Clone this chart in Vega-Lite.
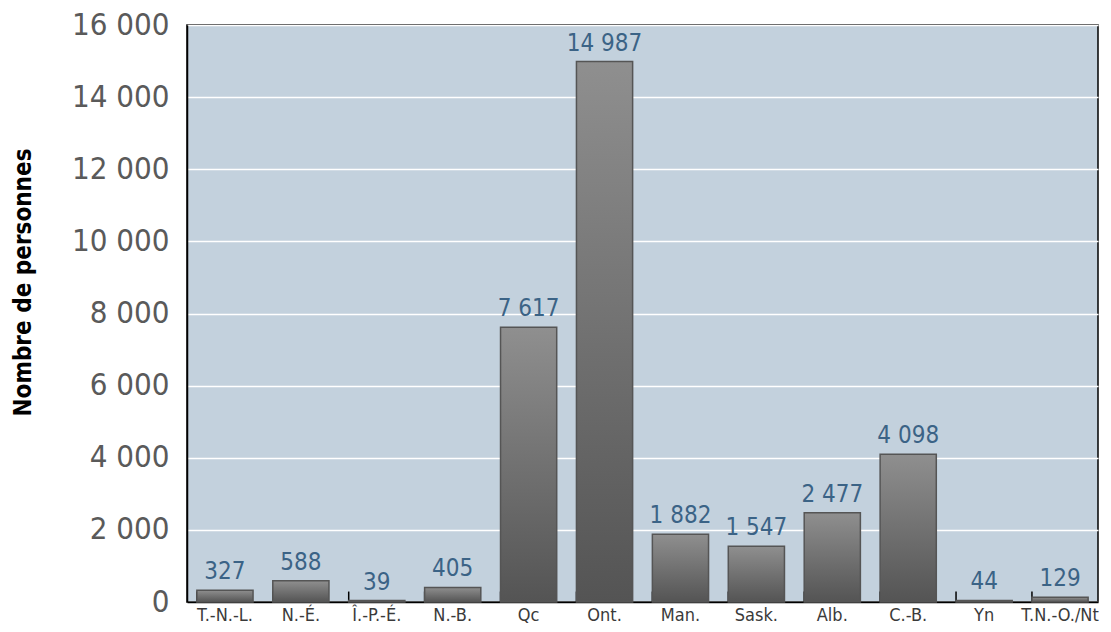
{
  "$schema": "https://vega.github.io/schema/vega-lite/v6.json",
  "autosize": "none",
  "width": 911,
  "height": 577,
  "padding": {"left": 187, "top": 25, "right": 13, "bottom": 30},
  "background": "white",
  "config": {
    "locale": {"number": {"decimal": ",", "thousands": " ", "grouping": [3], "currency": ["", " $"]}},
    "view": {"fill": "#c3d1dd", "stroke": "black", "strokeWidth": 1.5},
    "font": "DejaVu Sans Condensed"
  },
  "data": {
    "values": [
      {"prov": "T.-N.-L.", "n": 327},
      {"prov": "N.-É.", "n": 588},
      {"prov": "Î.-P.-É.", "n": 39},
      {"prov": "N.-B.", "n": 405},
      {"prov": "Qc", "n": 7617},
      {"prov": "Ont.", "n": 14987},
      {"prov": "Man.", "n": 1882},
      {"prov": "Sask.", "n": 1547},
      {"prov": "Alb.", "n": 2477},
      {"prov": "C.-B.", "n": 4098},
      {"prov": "Yn", "n": 44},
      {"prov": "T.N.-O./Nt", "n": 129}
    ]
  },
  "encoding": {
    "x": {
      "field": "prov", "type": "nominal", "sort": null,
      "scale": {"paddingInner": 0.26, "paddingOuter": 0.13},
      "axis": {
        "title": null, "labelAngle": 0, "labelFontSize": 18, "labelColor": "#3a3a3a",
        "labelPadding": 4, "ticks": false,
        "domainColor": "black", "domainWidth": 1.5, "labelFont": "DejaVu Sans Condensed"
      }
    },
    "y": {
      "field": "n", "type": "quantitative",
      "scale": {"domain": [0, 16000], "nice": false},
      "axis": {
        "title": "Nombre de personnes", "titleFontSize": 24, "titleFontWeight": "bold",
        "titleColor": "black", "titlePadding": 36, "titleY": 257, "titleAlign": "center",
        "titleFont": "DejaVu Sans Condensed",
        "values": [0, 2000, 4000, 6000, 8000, 10000, 12000, 14000, 16000],
        "format": ",d", "labelFontSize": 31, "labelColor": "#5a5a5a", "labelPadding": 18,
        "ticks": false, "domainColor": "black", "domainWidth": 1.5,
        "gridColor": "white", "gridWidth": 1.5, "labelFont": "DejaVu Sans Condensed"
      }
    }
  },
  "layer": [
    {
      "mark": {"type": "rule", "color": "black", "strokeWidth": 1.5},
      "encoding": {
        "x": {"field": "prov", "type": "nominal", "sort": null, "bandPosition": 0},
        "y": {"datum": 0},
        "y2": {"datum": 290}
      }
    },
    {
      "mark": {
        "type": "bar",
        "stroke": "#555555", "strokeWidth": 1.5,
        "fill": {
          "gradient": "linear", "x1": 0, "y1": 0, "x2": 0, "y2": 1,
          "stops": [{"offset": 0, "color": "#8f8f8f"}, {"offset": 1, "color": "#545454"}]
        }
      }
    },
    {
      "mark": {"type": "text", "baseline": "bottom", "dy": -6, "fontSize": 24, "color": "#3b6386", "font": "DejaVu Sans Condensed"},
      "encoding": {"text": {"field": "n", "type": "quantitative", "format": ",d"}}
    }
  ]
}
